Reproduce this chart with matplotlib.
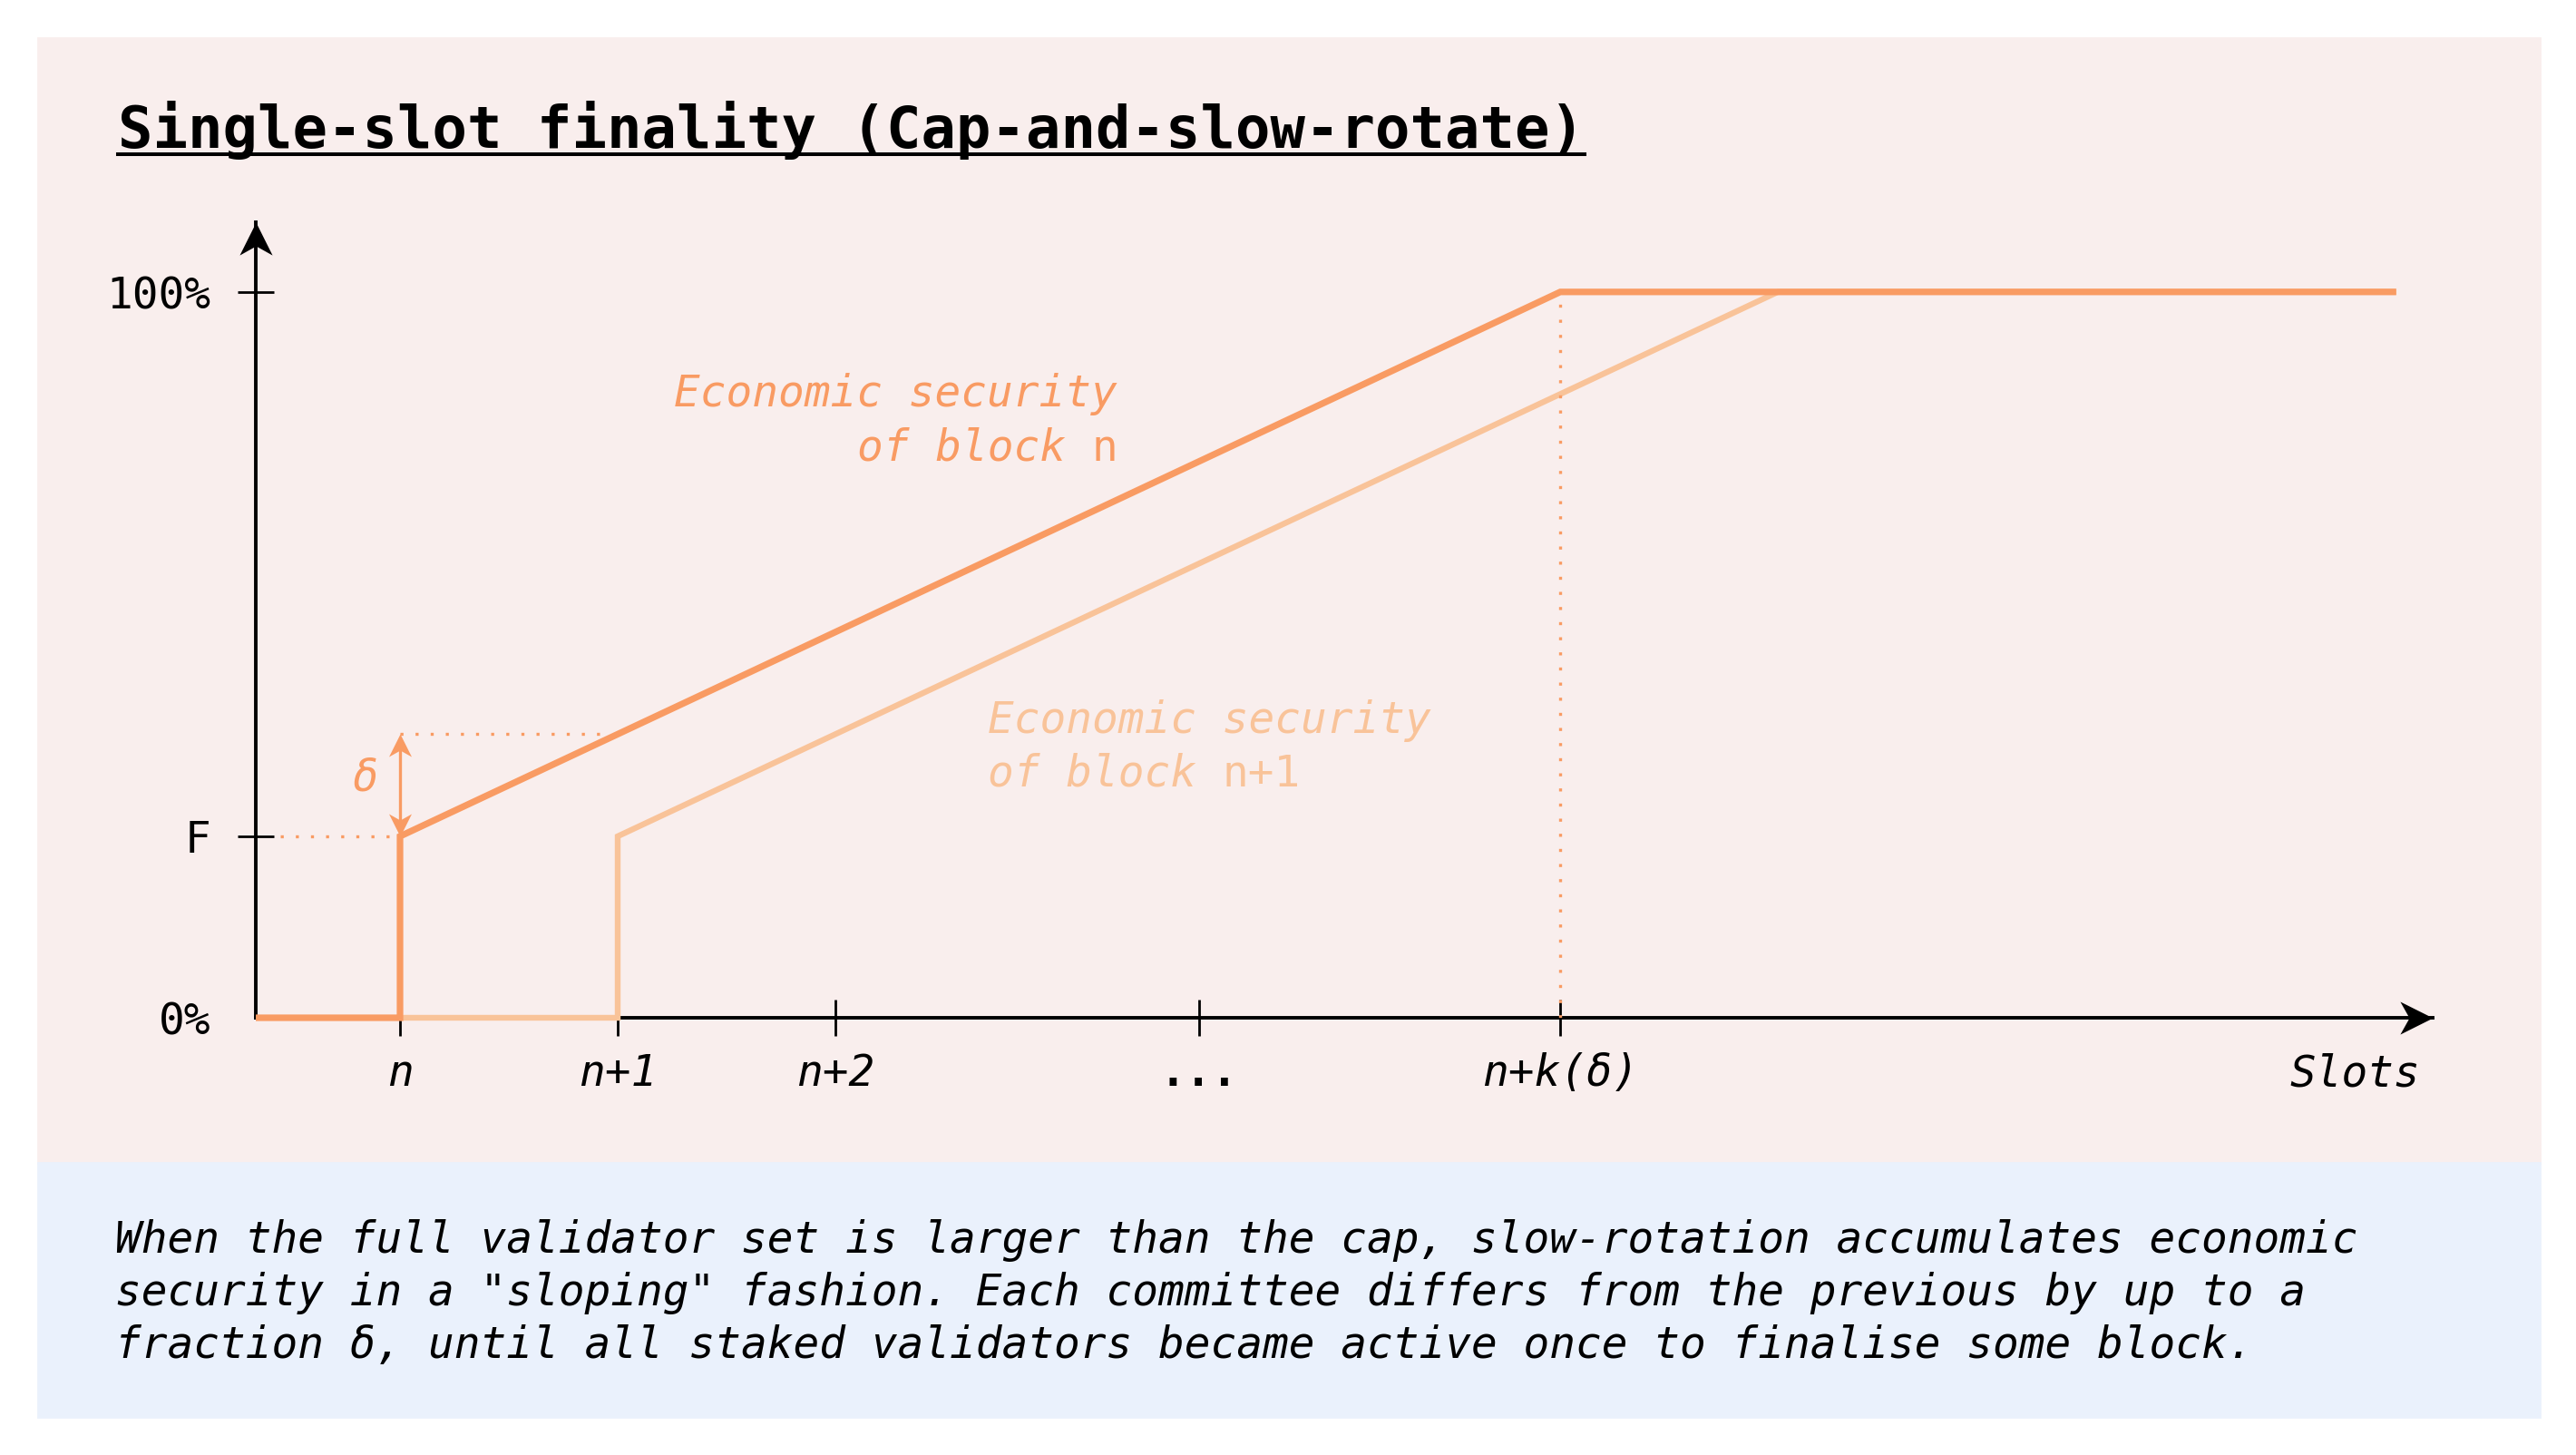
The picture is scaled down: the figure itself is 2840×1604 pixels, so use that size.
import matplotlib.pyplot as plt
from matplotlib.patches import Rectangle
from matplotlib.path import Path
from matplotlib.lines import Line2D

# x in slots counted from block n, y in % of total stake
slot_ticks = [0, 1, 2, 3.67, 5.33]
slot_labels = ['n', 'n+1', 'n+2', '...', 'n+k(δ)']
security_ticks = [0, 25, 100]
security_labels = ['0%', 'F', '100%']

F = 25
delta = 14.06          # gain per slot
k = 5.33               # slots until block n reaches 100%
x_start, x_end = -0.6625, 9.17

block_n_x = [x_start, 0, 0, k, x_end]
block_n_y = [0, 0, F, 100, 100]
block_n1_x = [0, 1, 1, k + 1, x_end]
block_n1_y = [0, 0, F, 100, 100]

caption = ('When the full validator set is larger than the cap, slow-rotation accumulates economic\n'
           'security in a "sloping" fashion. Each committee differs from the previous by up to a\n'
           'fraction δ, until all staked validators became active once to finalise some block.')

ORANGE = '#F99B63'
LIGHT = '#F9C399'
PINK = '#F9EEED'
BLUE = '#EAF1FC'
MONO = 'DejaVu Sans Mono'
FS = 17.2
char_w = 0.602 * FS

plt.rcParams['font.family'] = MONO

W, H = 2840, 1604
fig = plt.figure(figsize=(W / 200, H / 200), dpi=200)
fig.patches.append(Rectangle((42 / W, 1 - 1282 / H), 2758 / W, 1240 / H,
                             transform=fig.transFigure, color=PINK, zorder=-2))
fig.patches.append(Rectangle((42 / W, 1 - 1562 / H), 2758 / W, 280 / H,
                             transform=fig.transFigure, color=BLUE, zorder=-2))

ax = fig.add_axes([282 / W, 1 - 1122 / H, 2400 / W, 877 / H])
ax.set_xlim(-0.6625, 9.3375)
ax.set_ylim(0, 109.6)
ax.patch.set_visible(False)
for s in ['top', 'right']:
    ax.spines[s].set_visible(False)
for s in ['left', 'bottom']:
    ax.spines[s].set_linewidth(1.4)

ax.set_xticks(slot_ticks, slot_labels)
ax.set_yticks(security_ticks, security_labels)
ax.tick_params(axis='both', direction='inout', length=14.4, width=1.0, labelsize=FS)
ax.tick_params(axis='x', pad=6.5)
ax.tick_params(axis='y', pad=10.8)
ax.yaxis.get_major_ticks()[0].tick1line.set_visible(False)
for lab in ax.get_xticklabels():
    if lab.get_text() == '...':
        lab.set_fontweight('bold')
    else:
        lab.set_fontstyle('italic')

# notched arrow heads
def head(dx, dy):
    # tip at the origin, pointing along (dx, dy)
    pts = [(0, 0), (-1, 0.5), (-0.72, 0), (-1, -0.5), (0, 0)]
    pts = [(x * dx - y * dy, x * dy + y * dx) for x, y in pts]
    return Path(pts, [Path.MOVETO, Path.LINETO, Path.LINETO, Path.LINETO, Path.CLOSEPOLY])

ax.plot(1, 0, marker=head(1, 0), ms=26, mew=0, color='k', transform=ax.transAxes, clip_on=False)
ax.plot(0, 1, marker=head(0, 1), ms=26, mew=0, color='k', transform=ax.transAxes, clip_on=False)

ax.plot(block_n1_x, block_n1_y, color=LIGHT, lw=2.3, solid_joinstyle='miter',
        solid_capstyle='butt', clip_on=False, zorder=3)
ax.plot(block_n_x, block_n_y, color=ORANGE, lw=2.6, solid_joinstyle='miter',
        solid_capstyle='butt', clip_on=False, zorder=4)

dots = (0, (1, 4))
ax.plot([-0.55, 0], [F, F], color=ORANGE, lw=1.2, ls=dots, zorder=3)
ax.plot([0, 0.95], [F + delta, F + delta], color=ORANGE, lw=1.2, ls=dots, zorder=3)
ax.plot([k, k], [0, 100], color=ORANGE, lw=1.2, ls=dots, zorder=3)

# delta: double arrow between F and F + delta
ax.plot([0, 0], [F + 1.5, F + delta - 1.5], color=ORANGE, lw=1.2, zorder=5)
ax.plot(0, F + delta, marker=head(0, 1), ms=18, mew=0, color=ORANGE, zorder=5)
ax.plot(0, F, marker=head(0, -1), ms=18, mew=0, color=ORANGE, zorder=5)
ax.text(-0.16, 33, 'δ', color=ORANGE, fontsize=FS, style='italic', ha='center', va='center')

# labels of the two curves
ax.text(3.296, 84.25, 'Economic security', color=ORANGE, fontsize=FS, style='italic',
        ha='right', va='baseline')
ax.text(3.296, 76.75, 'n', color=ORANGE, fontsize=FS, ha='right', va='baseline')
ax.annotate('of block ', xy=(3.296, 76.75), xytext=(-char_w, 0), textcoords='offset points',
            color=ORANGE, fontsize=FS, style='italic', ha='right', va='baseline')

ax.text(2.7, 39.25, 'Economic security', color=LIGHT, fontsize=FS, style='italic',
        ha='left', va='baseline')
ax.text(2.7, 31.9, 'of block ', color=LIGHT, fontsize=FS, style='italic',
        ha='left', va='baseline')
ax.annotate('n+1', xy=(2.7, 31.9), xytext=(9 * char_w, 0), textcoords='offset points',
            color=LIGHT, fontsize=FS, ha='left', va='baseline')

ax.text(9.28, -4.75, 'Slots', fontsize=FS, style='italic', ha='right', va='top', clip_on=False)

title = fig.text(130 / W, 1 - 163 / H, 'Single-slot finality (Cap-and-slow-rotate)',
                 fontsize=23, weight='bold', va='baseline')
# multi-line baseline anchors the last line
fig.text(127 / W, 1 - 1497 / H, caption, fontsize=FS, style='italic', va='baseline',
         linespacing=1.3)

fig.canvas.draw()
bb = title.get_window_extent().transformed(fig.transFigure.inverted())
fig.add_artist(Line2D([bb.x0, bb.x1], [1 - 170 / H] * 2, lw=1.45, color='k',
                      transform=fig.transFigure))

fig.savefig('out.png', dpi=200)
